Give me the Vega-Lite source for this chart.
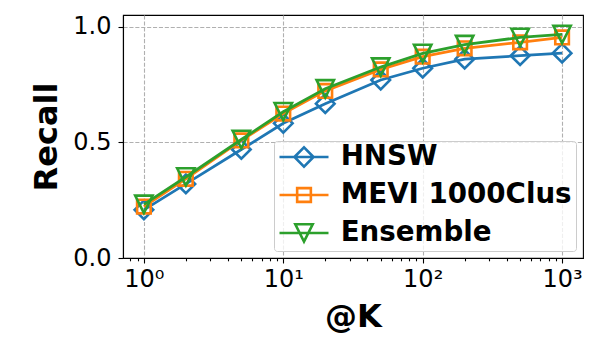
{
  "$schema": "https://vega.github.io/schema/vega-lite/v6.json",
  "autosize": "none",
  "width": 460,
  "height": 243,
  "padding": {"left": 123, "top": 15, "right": 17, "bottom": 92},
  "background": "white",
  "data": {
    "values": [
      {"K": 1, "series": "HNSW", "recall": 0.208},
      {"K": 2, "series": "HNSW", "recall": 0.320},
      {"K": 5, "series": "HNSW", "recall": 0.469},
      {"K": 10, "series": "HNSW", "recall": 0.582},
      {"K": 20, "series": "HNSW", "recall": 0.667},
      {"K": 50, "series": "HNSW", "recall": 0.769},
      {"K": 100, "series": "HNSW", "recall": 0.820},
      {"K": 200, "series": "HNSW", "recall": 0.859},
      {"K": 500, "series": "HNSW", "recall": 0.874},
      {"K": 1000, "series": "HNSW", "recall": 0.885},
      {"K": 1, "series": "MEVI 1000Clus", "recall": 0.222},
      {"K": 2, "series": "MEVI 1000Clus", "recall": 0.342},
      {"K": 5, "series": "MEVI 1000Clus", "recall": 0.508},
      {"K": 10, "series": "MEVI 1000Clus", "recall": 0.624},
      {"K": 20, "series": "MEVI 1000Clus", "recall": 0.722},
      {"K": 50, "series": "MEVI 1000Clus", "recall": 0.815},
      {"K": 100, "series": "MEVI 1000Clus", "recall": 0.870},
      {"K": 200, "series": "MEVI 1000Clus", "recall": 0.906},
      {"K": 500, "series": "MEVI 1000Clus", "recall": 0.932},
      {"K": 1000, "series": "MEVI 1000Clus", "recall": 0.953},
      {"K": 1, "series": "Ensemble", "recall": 0.232},
      {"K": 2, "series": "Ensemble", "recall": 0.350},
      {"K": 5, "series": "Ensemble", "recall": 0.512},
      {"K": 10, "series": "Ensemble", "recall": 0.632},
      {"K": 20, "series": "Ensemble", "recall": 0.731},
      {"K": 50, "series": "Ensemble", "recall": 0.825},
      {"K": 100, "series": "Ensemble", "recall": 0.884},
      {"K": 200, "series": "Ensemble", "recall": 0.922},
      {"K": 500, "series": "Ensemble", "recall": 0.953},
      {"K": 1000, "series": "Ensemble", "recall": 0.966}
    ]
  },
  "encoding": {
    "x": {
      "field": "K",
      "type": "quantitative",
      "scale": {"type": "log", "domain": [0.708, 1413], "nice": false},
      "axis": {
        "title": "@K",
        "values": [0.8, 0.9, 1, 2, 3, 4, 5, 6, 7, 8, 9, 10, 20, 30, 40, 50, 60, 70, 80, 90, 100, 200, 300, 400, 500, 600, 700, 800, 900, 1000],
        "labelExpr": "datum.value == 1 ? '10⁰' : datum.value == 10 ? '10¹' : datum.value == 100 ? '10²' : datum.value == 1000 ? '10³' : ''",
        "labelOverlap": false,
        "labelFlush": false,
        "labelPadding": 4,
        "titlePadding": 10,
        "tickSize": {"condition": {"test": "indexof([1,10,100,1000], datum.value) >= 0", "value": 5}, "value": 2.8},
        "gridOpacity": {"condition": {"test": "indexof([1,10,100,1000], datum.value) >= 0", "value": 1}, "value": 0}
      }
    },
    "y": {
      "field": "recall",
      "type": "quantitative",
      "scale": {"domain": [0, 1.05], "nice": false, "zero": false},
      "axis": {
        "title": "Recall",
        "values": [0, 0.5, 1.0],
        "format": ".1f",
        "labelPadding": 7,
        "titlePadding": 9
      }
    },
    "color": {
      "field": "series",
      "type": "nominal",
      "scale": {"domain": ["HNSW", "MEVI 1000Clus", "Ensemble"], "range": ["#1f77b4", "#ff7f0e", "#2ca02c"]},
      "legend": {
        "title": null,
        "orient": "bottom-right",
        "offset": 7,
        "clipHeight": 24,
        "encode": {
          "symbols": {
            "update": {
              "shape": {"signal": "datum.value == 'HNSW' ? 'M-1,0L1,0M-0.39,0L0,-0.39L0.39,0L0,0.39Z' : datum.value == 'Ensemble' ? 'M-1,0L1,0M-0.355,-0.355L0.355,-0.355L0,0.355Z' : 'M-1,0L1,0M-0.28,-0.28L0.28,-0.28L0.28,0.28L-0.28,0.28Z'"},
              "fill": {"value": "transparent"},
              "stroke": {"scale": "color", "field": "value"},
              "strokeWidth": {"value": 2.6},
              "opacity": {"value": 1}
            }
          }
        }
      }
    }
  },
  "layer": [
    {
      "transform": [{"filter": "datum.series == 'HNSW'"}],
      "mark": {"type": "line", "strokeWidth": 2.75}
    },
    {
      "transform": [{"filter": "datum.series == 'HNSW'"}],
      "mark": {"type": "point", "filled": false, "strokeWidth": 2.6, "size": 400, "opacity": 1, "shape": "M-0.93,0L0,-0.93L0.93,0L0,0.93Z"}
    },
    {
      "transform": [{"filter": "datum.series == 'MEVI 1000Clus'"}],
      "mark": {"type": "line", "strokeWidth": 2.75}
    },
    {
      "transform": [{"filter": "datum.series == 'MEVI 1000Clus'"}],
      "mark": {"type": "point", "filled": false, "strokeWidth": 2.6, "size": 400, "opacity": 1, "shape": "M-0.68,-0.68L0.68,-0.68L0.68,0.68L-0.68,0.68Z"}
    },
    {
      "transform": [{"filter": "datum.series == 'Ensemble'"}],
      "mark": {"type": "line", "strokeWidth": 2.75}
    },
    {
      "transform": [{"filter": "datum.series == 'Ensemble'"}],
      "mark": {"type": "point", "filled": false, "strokeWidth": 2.6, "size": 400, "opacity": 1, "shape": "M-0.87,-0.87L0.87,-0.87L0,0.87Z"}
    }
  ],
  "config": {
    "font": "DejaVu Sans",
    "view": {"stroke": "black", "strokeWidth": 1.1},
    "axis": {
      "labelFont": "DejaVu Sans",
      "labelFontSize": 24,
      "labelColor": "black",
      "titleFont": "DejaVu Sans",
      "titleFontSize": 32,
      "titleFontWeight": "bold",
      "titleColor": "black",
      "domainColor": "black",
      "domainWidth": 1.1,
      "tickColor": "black",
      "tickWidth": 1.1,
      "tickSize": 5,
      "grid": true,
      "gridColor": "#b0b0b0",
      "gridWidth": 1.1,
      "gridDash": [4.1, 1.8]
    },
    "legend": {
      "labelFont": "DejaVu Sans",
      "labelFontSize": 27.7,
      "labelFontWeight": "bold",
      "labelColor": "black",
      "symbolSize": 2401,
      "symbolStrokeWidth": 2.6,
      "fillColor": "rgba(255,255,255,0.8)",
      "strokeColor": "#cccccc",
      "cornerRadius": 3,
      "padding": 4,
      "rowPadding": 10,
      "labelOffset": 10.7,
      "labelLimit": 400
    }
  }
}
